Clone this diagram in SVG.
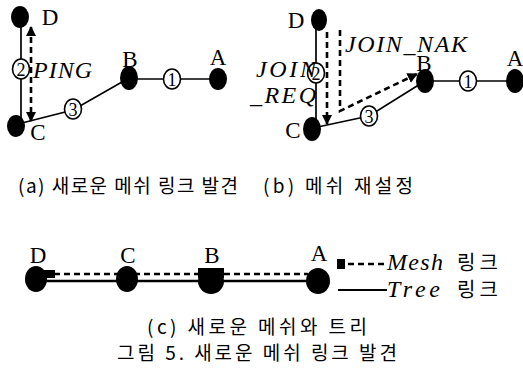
<svg xmlns="http://www.w3.org/2000/svg" width="523" height="374" viewBox="0 0 523 374">
<defs>
<style>
.node{fill:#000}
.lbl{font-family:"Liberation Serif",serif;font-size:23px;fill:#000;text-anchor:middle}
.it{font-family:"Liberation Serif",serif;font-style:italic;font-size:24px;fill:#000}
.num{font-family:"Liberation Serif",serif;font-size:18px;fill:#000;text-anchor:middle}
.numc{fill:#fff;stroke:#000;stroke-width:1.6}
.ln{fill:none;stroke:#000;stroke-width:1.7}
.dash{fill:none;stroke:#000;stroke-width:2.6;stroke-dasharray:6 4}
.cap{font-family:"Noto Sans CJK KR","Liberation Sans",sans-serif;font-size:19px;fill:#000}
.ko{font-family:"Noto Sans CJK KR","Liberation Sans",sans-serif;font-size:20px;fill:#000}
</style>
<marker id="ah" viewBox="0 0 10 10" refX="9" refY="5" markerWidth="4" markerHeight="4.5" orient="auto-start-reverse" markerUnits="strokeWidth">
<path d="M0,0 L10,5 L0,10 Z" fill="#000"/>
</marker>
</defs>

<g id="connectors">
<!-- panel a -->
<line class="ln" x1="21" y1="26" x2="21" y2="122"/>
<polyline class="ln" points="18,124 73,110 129,78"/>
<line class="ln" x1="130" y1="79" x2="218" y2="79"/>
<line class="dash" x1="31" y1="27" x2="31" y2="121" marker-start="url(#ah)" marker-end="url(#ah)"/>
<!-- panel b -->
<line class="ln" x1="316" y1="28" x2="316" y2="125"/>
<polyline class="ln" points="313,128 369,116 425,81"/>
<line class="ln" x1="425" y1="81" x2="514" y2="81"/>
<line class="dash" x1="327" y1="32" x2="327" y2="124" marker-end="url(#ah)"/>
<polyline class="dash" points="340,30 340,111 417,74" marker-end="url(#ah)"/>
<!-- panel c -->
<line class="ln" x1="37" y1="281" x2="318" y2="281" style="stroke-width:2.6"/>
<line class="dash" x1="54" y1="274" x2="308" y2="274"/>
<!-- legend -->
<line class="dash" x1="348" y1="264" x2="387" y2="264"/>
<line class="ln" x1="338" y1="290" x2="387" y2="290" style="stroke-width:2.2"/>
</g>

<!-- numbered circles -->
<g id="n2a"><ellipse class="numc" cx="21" cy="69" rx="8.5" ry="10"/><text class="num" x="21" y="75.5">2</text></g>
<g id="n3a"><ellipse class="numc" cx="73" cy="109" rx="8.5" ry="10"/><text class="num" x="73" y="115.5">3</text></g>
<g id="n1a"><ellipse class="numc" cx="172" cy="79" rx="8.5" ry="10"/><text class="num" x="172" y="85.5">1</text></g>
<g id="n2b"><ellipse class="numc" cx="316" cy="73" rx="8.5" ry="10"/><text class="num" x="316" y="79.5">2</text></g>
<g id="n3b"><ellipse class="numc" cx="369" cy="116" rx="8.5" ry="10"/><text class="num" x="369" y="122.5">3</text></g>
<g id="n1b"><ellipse class="numc" cx="468" cy="81" rx="8.5" ry="10"/><text class="num" x="468" y="87.5">1</text></g>

<!-- panel a nodes -->
<g id="aD"><ellipse class="node" cx="20" cy="17" rx="9" ry="11"/><text class="lbl" x="50" y="25">D</text></g>
<g id="aC"><ellipse class="node" cx="16" cy="126" rx="9" ry="11"/><text class="lbl" x="38" y="140">C</text></g>
<g id="aB"><ellipse class="node" cx="129" cy="78" rx="9" ry="12"/><text class="lbl" x="130" y="67">B</text></g>
<g id="aA"><ellipse class="node" cx="218" cy="79" rx="9" ry="11"/><text class="lbl" x="218" y="65">A</text></g>
<text class="it" x="33" y="78" textLength="59">PING</text>

<!-- panel b nodes -->
<g id="bD"><ellipse class="node" cx="319" cy="20" rx="8" ry="11"/><text class="lbl" x="296" y="28">D</text></g>
<g id="bC"><ellipse class="node" cx="312" cy="129" rx="9" ry="12"/><text class="lbl" x="293" y="138">C</text></g>
<g id="bB"><ellipse class="node" cx="425" cy="81" rx="9" ry="12"/><text class="lbl" x="424" y="71">B</text></g>
<g id="bA"><ellipse class="node" cx="515" cy="81" rx="9" ry="12"/><text class="lbl" x="515" y="66">A</text></g>
<text class="it" x="345" y="52" textLength="122">JOIN_NAK</text>
<text class="it" x="256" y="77" textLength="60">JOIN</text>
<text class="it" x="250" y="103" textLength="66">_REQ</text>

<!-- panel c nodes -->
<g id="cD"><ellipse class="node" cx="36" cy="279" rx="11" ry="13"/><rect x="44" y="270" width="11" height="8" fill="#000"/><text class="lbl" x="38" y="263">D</text></g>
<g id="cC"><ellipse class="node" cx="127" cy="279" rx="11" ry="13"/><text class="lbl" x="128" y="263">C</text></g>
<g id="cB"><ellipse class="node" cx="211" cy="281" rx="13" ry="13"/><rect x="198" y="268" width="26" height="10" fill="#000"/><text class="lbl" x="212" y="263">B</text></g>
<g id="cA"><ellipse class="node" cx="318" cy="281" rx="12" ry="13"/><text class="lbl" x="319" y="261">A</text></g>

<!-- legend -->
<g id="legend">
<rect x="337" y="259" width="8" height="10" fill="#000"/>
<text class="it" x="387" y="270" textLength="56">Mesh</text>
<text class="ko" x="457" y="270" textLength="41">링크</text>
<text class="it" x="387" y="297" textLength="53">Tree</text>
<text class="ko" x="457" y="297" textLength="41">링크</text>
</g>

<!-- captions -->
<text class="cap" x="18" y="193" textLength="220">(a) 새로운 메쉬 링크 발견</text>
<text class="cap" x="263" y="193" textLength="150">(b) 메쉬 재설정</text>
<text class="cap" x="147" y="334" textLength="220">(c) 새로운 메쉬와 트리</text>
<text class="cap" x="117" y="360" textLength="280">그림 5. 새로운 메쉬 링크 발견</text>
</svg>
